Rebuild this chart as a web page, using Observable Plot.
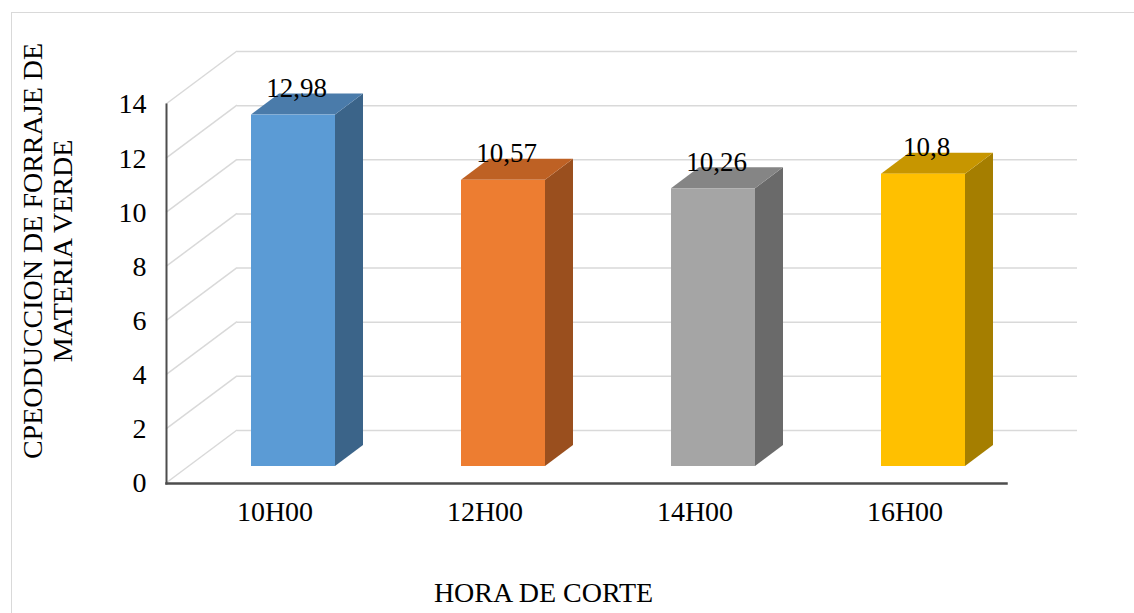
<!DOCTYPE html>
<html>
<head>
<meta charset="utf-8">
<script src="https://cdn.jsdelivr.net/npm/d3@7"></script>
<script src="https://cdn.jsdelivr.net/npm/@observablehq/plot@0.6"></script>
<style>
  html, body { margin: 0; padding: 0; background: #fff; overflow: hidden; }
  #wrap { position: relative; width: 1134px; height: 613px; }
  #border { position: absolute; left: 11px; top: 12px; width: 1200px; height: 700px;
            border: 1.5px solid #d9d9d9; box-sizing: border-box; }
  #chart { position: absolute; left: 0; top: 0; }
  #chart svg text { font-family: "Liberation Serif", "Times New Roman", serif !important;
                    font-variant: normal !important; }
</style>
</head>
<body>
<div id="wrap"><div id="border"></div><div id="chart"></div></div>
<script>
// Forage production by cutting hour
const horas = ["10H00", "12H00", "14H00", "16H00"];
const valores = [12.98, 10.57, 10.26, 10.8];
const yTicks = [0, 2, 4, 6, 8, 10, 12, 14];

// face colours of each column: front, top, side
const colorFrente = ["#5B9BD5", "#ED7D31", "#A5A5A5", "#FFC000"];
const colorTecho  = ["#4A7BAA", "#BE6124", "#858585", "#C79600"];
const colorLado   = ["#3B6489", "#9A4F1E", "#6A6A6A", "#A57E00"];

const tituloY = "CPEODUCCION DE FORRAJE DE\nMATERIA VERDE";
const tituloX = "HORA DE CORTE";

const rows = horas.map((h, i) => ({
  hora: h, valor: valores[i],
  frente: colorFrente[i], techo: colorTecho[i], lado: colorLado[i]
}));

// pseudo-3D geometry (pixels)
const WALL_DX = 71, WALL_DY = -53;   // depth of the floor / side wall
const FACE_DX = 22, FACE_DY = -17;   // front face of the columns
const BAR_DX = 28, BAR_DY = -21;     // depth of a column
const INSET = 63;                    // column inset inside its band
const GRID = "#d9d9d9";
const AXIS = "#4d4d4d";
const FONT = "Liberation Serif";
const FS = 28;                       // axis and title text size
const FS_LABEL = 27;                 // value label text size

// diagonal gridlines on the left wall and the floor
function leftWall(index, {y}, values, dims) {
  const g = d3.create("svg:g").attr("stroke", GRID).attr("stroke-width", 1.5);
  const x0 = dims.marginLeft;
  for (const t of yTicks) {
    g.append("line")
      .attr("x1", x0).attr("y1", y(t))
      .attr("x2", x0 + WALL_DX).attr("y2", y(t) + WALL_DY);
  }
  return g.node();
}

// top and side faces of each column
function columnFaces(index, {x, y}) {
  const g = d3.create("svg:g");
  const bw = x.bandwidth();
  for (const d of rows) {
    const xl = x(d.hora) + INSET + FACE_DX;
    const xr = x(d.hora) + bw - INSET + FACE_DX;
    const yt = y(d.valor) + FACE_DY;
    const yb = y(0) + FACE_DY;
    g.append("path")
      .attr("d", `M${xr},${yt}L${xr + BAR_DX},${yt + BAR_DY}L${xr + BAR_DX},${yb + BAR_DY}L${xr},${yb}Z`)
      .attr("fill", d.lado);
    g.append("path")
      .attr("d", `M${xl},${yt}L${xl + BAR_DX},${yt + BAR_DY}L${xr + BAR_DX},${yt + BAR_DY}L${xr},${yt}Z`)
      .attr("fill", d.techo);
  }
  return g.node();
}

const chart = Plot.plot({
  width: 1134,
  height: 613,
  marginLeft: 166,
  marginRight: 128,
  marginTop: 104,
  marginBottom: 130,
  style: {fontFamily: FONT, fontSize: FS + "px", color: "#000", background: "transparent", overflow: "visible"},
  x: {domain: horas, padding: 0, label: null},
  y: {domain: [0, 14], label: null},
  color: {type: "identity"},
  marks: [
    // back wall gridlines
    Plot.ruleY(yTicks, {dx: WALL_DX, dy: WALL_DY, stroke: GRID, strokeWidth: 1.5}),
    leftWall,
    columnFaces,
    Plot.barY(rows, {
      x: "hora", y: "valor", fill: "frente",
      insetLeft: INSET, insetRight: INSET, dx: FACE_DX, dy: FACE_DY
    }),
    Plot.text(rows, {
      x: "hora", y: "valor",
      text: d => String(d.valor).replace(".", ","),
      dx: FACE_DX + 3, dy: FACE_DY + BAR_DY + 3,
      lineAnchor: "bottom", fill: "#000", fontSize: FS_LABEL, fontFamily: FONT
    }),
    Plot.axisY({ticks: yTicks, tickSize: 0, tickPadding: 20, label: null, fontSize: FS, fontFamily: FONT}),
    Plot.axisX({tickSize: 0, tickPadding: 18, dx: 3.5, label: null, fontSize: FS, fontFamily: FONT}),
    Plot.frame({anchor: "left", stroke: AXIS, strokeWidth: 2}),
    Plot.frame({anchor: "bottom", stroke: AXIS, strokeWidth: 2.5}),
    Plot.text([tituloY], {
      frameAnchor: "left", rotate: -90, dx: -119, dy: -43,
      lineAnchor: "middle", textAnchor: "middle", lineHeight: 1.05, fontSize: FS, fill: "#000", fontFamily: FONT
    }),
    Plot.text([tituloX], {
      frameAnchor: "bottom", dx: -43, dy: 110,
      lineAnchor: "middle", textAnchor: "middle", fontSize: FS, fill: "#000", fontFamily: FONT
    })
  ]
});

document.getElementById("chart").appendChild(chart);
</script>
</body>
</html>
